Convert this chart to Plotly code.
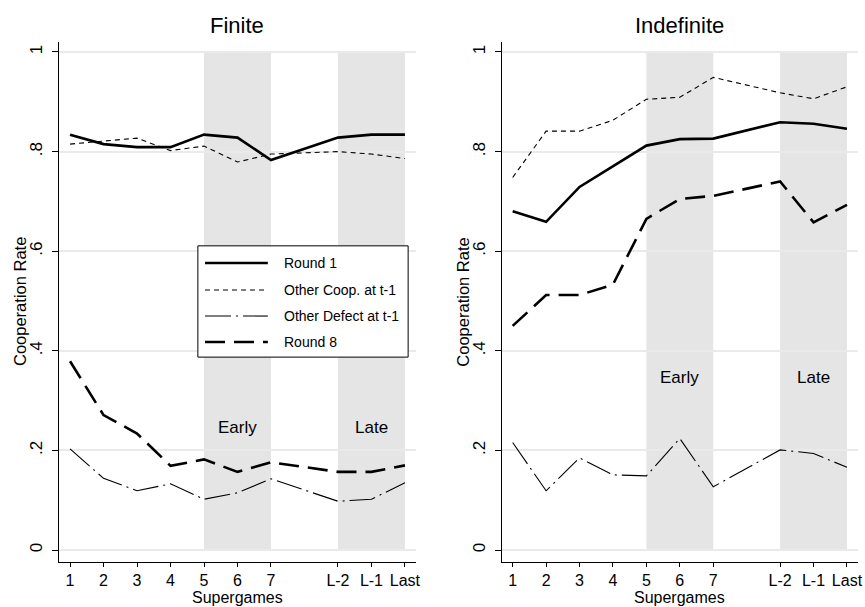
import plotly.graph_objects as go

# ---- data ----
x_pos = [1, 2, 3, 4, 5, 6, 7, 9, 10, 11]
x_labels = ["1", "2", "3", "4", "5", "6", "7", "L-2", "L-1", "Last"]
y_ticks = [0, 0.2, 0.4, 0.6, 0.8, 1.0]
y_labels = ["0", ".2", ".4", ".6", ".8", "1"]
series_names = ["Round 1", "Other Coop. at t-1", "Other Defect at t-1", "Round 8"]

finite_round1 = [0.834, 0.815, 0.809, 0.809, 0.834, 0.828, 0.783, 0.828, 0.834, 0.834]
finite_coop = [0.815, 0.821, 0.827, 0.802, 0.811, 0.779, 0.795, 0.800, 0.795, 0.786]
finite_defect = [0.203, 0.144, 0.119, 0.133, 0.102, 0.115, 0.143, 0.098, 0.102, 0.135]
finite_round8 = [0.379, 0.271, 0.234, 0.169, 0.182, 0.157, 0.176, 0.157, 0.157, 0.170]

indef_round1 = [0.680, 0.659, 0.729, 0.771, 0.812, 0.825, 0.826, 0.859, 0.856, 0.846]
indef_coop = [0.748, 0.841, 0.841, 0.863, 0.905, 0.909, 0.949, 0.918, 0.906, 0.930]
indef_defect = [0.216, 0.119, 0.185, 0.151, 0.149, 0.224, 0.127, 0.201, 0.194, 0.166]
indef_round8 = [0.450, 0.512, 0.512, 0.533, 0.665, 0.705, 0.711, 0.740, 0.658, 0.693]

panel_titles = ["Finite", "Indefinite"]
x_title = "Supergames"
y_title = "Cooperation Rate"
shade_ranges = [(5, 7), (9, 11)]
shade_labels = ["Early", "Late"]
label_y = [0.246, 0.346]

# ---- styles ----
styles = [
    dict(width=2.6, dash="solid"),
    dict(width=1.1, dash="5px,4px"),
    dict(width=1.1, dash="26px,5px,2px,5px"),
    dict(width=2.6, dash="20px,9px"),
]
FONT = "Liberation Sans, Arial, Helvetica, sans-serif"
GRID = "#eaeaea"
SHADE = "#e5e5e5"

fig = go.Figure()

panels = [
    ("x", "y", [finite_round1, finite_coop, finite_defect, finite_round8]),
    ("x2", "y2", [indef_round1, indef_coop, indef_defect, indef_round8]),
]
for xa, ya, data in panels:
    for name, vals, st in zip(series_names, data, styles):
        fig.add_trace(go.Scatter(
            x=x_pos, y=vals, mode="lines", name=name, xaxis=xa, yaxis=ya,
            line=dict(color="black", width=st["width"], dash=st["dash"]),
            showlegend=False, hoverinfo="skip"))

shapes = []
annotations = []
for i, (xa, ya, _) in enumerate(panels):
    for (a, b), lab in zip(shade_ranges, shade_labels):
        shapes.append(dict(type="rect", xref=xa, yref=ya, x0=a, x1=b, y0=0, y1=1,
                           fillcolor=SHADE, line=dict(width=0), layer="below"))
        annotations.append(dict(xref=xa, yref=ya, x=(a + b) / 2, y=label_y[i], text=lab,
                                showarrow=False, font=dict(size=17, family=FONT, color="black")))
    annotations.append(dict(xref=xa + " domain", yref="paper", x=0.5, y=1.0, yshift=17,
                            yanchor="middle", text=panel_titles[i], showarrow=False,
                            font=dict(size=22, family=FONT, color="black")))
    # axis titles
    annotations.append(dict(xref=xa + " domain", yref=ya + " domain", x=0.5, y=0, yshift=-35,
                            yanchor="middle", text=x_title, showarrow=False,
                            font=dict(size=16, family=FONT, color="black")))
    annotations.append(dict(xref=xa + " domain", yref=ya + " domain", x=0, xshift=-39, y=0.5,
                            xanchor="center", yanchor="middle", textangle=-90, text=y_title,
                            showarrow=False, font=dict(size=16.5, family=FONT, color="black")))

# manual legend in the left panel
box = dict(x0=0.389, x1=0.978, y0=0.394, y1=0.608)
shapes.append(dict(type="rect", xref="x domain", yref="y domain", **box,
                   fillcolor="white", line=dict(color="black", width=1), layer="above"))
row_y = [0.575, 0.523, 0.473, 0.423]
for name, st, ry in zip(series_names, styles, row_y):
    shapes.append(dict(type="line", xref="x domain", yref="y domain", x0=0.409, x1=0.585,
                       y0=ry, y1=ry, layer="above",
                       line=dict(color="black", width=st["width"], dash=st["dash"])))
    annotations.append(dict(xref="x domain", yref="y domain", x=0.625, y=ry, text=name,
                            xanchor="left", yanchor="middle", showarrow=False,
                            font=dict(size=14, family=FONT, color="black")))

xcommon = dict(range=[0.67, 11.33], tickmode="array", tickvals=x_pos, ticktext=x_labels,
               ticks="outside", ticklen=4, tickcolor="black", showline=True, linecolor="black",
               linewidth=1, showgrid=False, zeroline=False, automargin=False,
               tickfont=dict(size=16, family=FONT, color="black"))
ycommon = dict(range=[-0.024, 1.02], tickmode="array", tickvals=y_ticks, ticktext=y_labels,
               tickangle=-90, ticks="outside", ticklen=6, tickcolor="black", showline=True,
               linecolor="black", linewidth=1, showgrid=True, gridcolor=GRID, gridwidth=1.5,
               zeroline=False, automargin=False, ticklabelstandoff=3,
               tickfont=dict(size=17, family=FONT, color="black"))

fig.update_layout(
    width=865, height=607,
    margin=dict(l=59, r=7, t=42, b=45, autoexpand=False),
    paper_bgcolor="white", plot_bgcolor="white",
    xaxis=dict(domain=[0, 0.4468], anchor="y", **xcommon),
    yaxis=dict(domain=[0, 1], anchor="x", **ycommon),
    xaxis2=dict(domain=[0.554, 1], anchor="y2", **xcommon),
    yaxis2=dict(domain=[0, 1], anchor="x2", **ycommon),
    shapes=shapes, annotations=annotations, showlegend=False,
    font=dict(family=FONT, color="black"),
)

fig.write_html("out.html")
